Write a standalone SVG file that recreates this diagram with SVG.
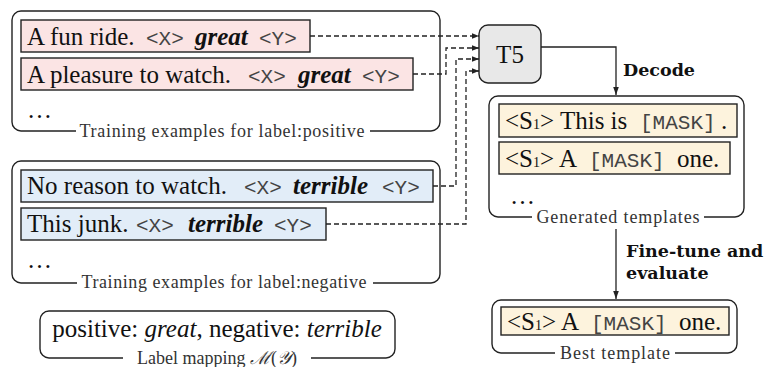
<svg xmlns="http://www.w3.org/2000/svg" width="764" height="367" viewBox="0 0 764 367">
<defs>
<marker id="ah" viewBox="0 0 10 10" refX="10" refY="5" markerWidth="7" markerHeight="7" markerUnits="userSpaceOnUse" orient="auto"><path d="M0,1 L10,5 L0,9 z" fill="#222"/></marker>
<marker id="ah2" viewBox="0 0 10 10" refX="10" refY="5" markerWidth="8" markerHeight="8" markerUnits="userSpaceOnUse" orient="auto"><path d="M0,1.5 L10,5 L0,8.5 z" fill="#222"/></marker>
<style>
.outer{fill:#fff;stroke:#222;stroke-width:1.4}
.pos{fill:#fbe4e4;stroke:#222;stroke-width:1.4}
.neg{fill:#e2edf8;stroke:#222;stroke-width:1.4}
.tpl{fill:#fdf3dd;stroke:#222;stroke-width:1.4}
.t{font-family:"Liberation Serif",serif;font-size:25px;fill:#111}
.m{font-family:"Liberation Mono","DejaVu Sans Mono",monospace;font-size:21px;fill:#444}
.bi{font-weight:bold;font-style:italic}
.i{font-style:italic}
.lab{font-family:"Liberation Serif",serif;font-size:18px;fill:#333;text-anchor:middle}
.bold{font-family:"DejaVu Serif",serif;font-weight:bold;font-size:17.5px;fill:#111}
.dash{fill:none;stroke:#222;stroke-width:1.3;stroke-dasharray:5,3}
.solid{fill:none;stroke:#222;stroke-width:1.3}
.bg{fill:#fff}
</style>
</defs>

<g id="positive">
<rect class="outer" x="12" y="11" width="428" height="120" rx="9"/>
<rect class="bg" x="76" y="124" width="294" height="14"/>
<text class="lab" x="222" y="137" textLength="285">Training examples for label:positive</text>
<rect class="pos" x="21" y="20" width="289" height="32"/>
<text class="t" x="27" y="45">A fun ride.</text>
<text class="m" x="146" y="45">&lt;X&gt;</text>
<text class="t bi" x="195" y="45">great</text>
<text class="m" x="259" y="45">&lt;Y&gt;</text>
<rect class="pos" x="21" y="58" width="392" height="32"/>
<text class="t" x="27" y="83">A pleasure to watch.</text>
<text class="m" x="248" y="83">&lt;X&gt;</text>
<text class="t bi" x="298" y="83">great</text>
<text class="m" x="362" y="83">&lt;Y&gt;</text>
<text class="t" x="27" y="118">…</text>
</g>

<g id="negative">
<rect class="outer" x="12" y="161" width="428" height="122" rx="9"/>
<rect class="bg" x="77" y="276" width="296" height="14"/>
<text class="lab" x="224" y="288" textLength="285">Training examples for label:negative</text>
<rect class="neg" x="21" y="170" width="412" height="32"/>
<text class="t" x="27" y="194">No reason to watch.</text>
<text class="m" x="244" y="194">&lt;X&gt;</text>
<text class="t bi" x="293" y="194">terrible</text>
<text class="m" x="382" y="194">&lt;Y&gt;</text>
<rect class="neg" x="21" y="208" width="305" height="32"/>
<text class="t" x="27" y="232">This junk.</text>
<text class="m" x="136" y="232">&lt;X&gt;</text>
<text class="t bi" x="188" y="232">terrible</text>
<text class="m" x="274" y="232">&lt;Y&gt;</text>
<text class="t" x="27" y="268">…</text>
</g>

<g id="label-mapping">
<rect class="outer" x="40" y="311" width="355" height="47" rx="9"/>
<rect class="bg" x="123" y="351" width="188" height="16"/>
<text class="t" x="217" y="337" text-anchor="middle">positive: <tspan class="i">great</tspan>, negative: <tspan class="i">terrible</tspan></text>
<text class="lab" x="217" y="364">Label mapping <tspan font-style="italic">ℳ</tspan>(<tspan font-style="italic">𝒴</tspan>)</text>
</g>

<g id="t5">
<rect x="479" y="25" width="62" height="58" rx="9" fill="#e8e8e8" stroke="#222" stroke-width="1.4"/>
<text class="t" x="510" y="63" text-anchor="middle">T5</text>
</g>

<g id="generated">
<rect class="outer" x="489" y="96" width="255" height="121" rx="9"/>
<rect class="bg" x="532" y="210" width="172" height="15"/>
<text class="lab" x="618" y="223" textLength="163">Generated templates</text>
<rect class="tpl" x="499" y="104" width="238" height="33"/>
<text class="t" x="505" y="129">&lt;S<tspan font-size="14">1</tspan>&gt; This is</text>
<text class="m" x="640" y="129">[MASK]</text>
<text class="t" x="721" y="129">.</text>
<rect class="tpl" x="499" y="142" width="231" height="32"/>
<text class="t" x="505" y="167">&lt;S<tspan font-size="14">1</tspan>&gt; A</text>
<text class="m" x="589" y="167">[MASK]</text>
<text class="t" x="677" y="167">one.</text>
<text class="t" x="510" y="204">…</text>
</g>

<g id="best">
<rect class="outer" x="492" y="300" width="245" height="53" rx="9"/>
<rect class="bg" x="555" y="346" width="120" height="17"/>
<text class="lab" x="615" y="359" textLength="110">Best template</text>
<rect class="tpl" x="501" y="307" width="228" height="28"/>
<text class="t" x="507" y="330">&lt;S<tspan font-size="14">1</tspan>&gt; A</text>
<text class="m" x="591" y="330">[MASK]</text>
<text class="t" x="679" y="330">one.</text>
</g>

<g id="connectors">
<path class="dash" d="M310,36 H479" marker-end="url(#ah)"/>
<path class="dash" d="M413,74 H446 V48 H479" marker-end="url(#ah)"/>
<path class="dash" d="M433,186 H456 V59 H479" marker-end="url(#ah)"/>
<path class="dash" d="M326,224 H466 V71 H479" marker-end="url(#ah)"/>
<path class="solid" d="M541,47 H616 V95" marker-end="url(#ah2)"/>
<path class="solid" d="M616,229 V299" marker-end="url(#ah2)"/>
<text class="bold" x="623" y="76">Decode</text>
<text class="bold" x="626" y="257">Fine-tune and</text>
<text class="bold" x="626" y="279">evaluate</text>
</g>
</svg>
